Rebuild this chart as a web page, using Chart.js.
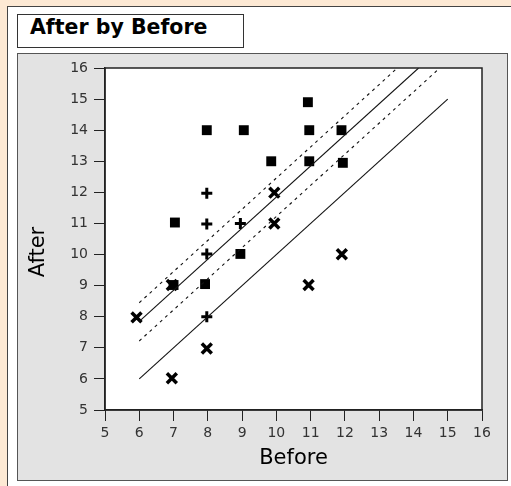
<!DOCTYPE html>
<html>
<head>
<meta charset="utf-8">
<script src="https://cdn.jsdelivr.net/npm/chart.js@4.4.1/dist/chart.umd.min.js"></script>
<style>
html,body{margin:0;padding:0;width:511px;height:486px;overflow:hidden;background:#fde9d4;}
#outer{position:absolute;left:7px;top:6px;width:520px;height:500px;background:#fff;border:1px solid #444;}
#title{position:absolute;left:17px;top:14px;height:32px;line-height:33px;border:1.5px solid #333;background:#fff;
  font:bold 20.5px "DejaVu Sans";color:#000;padding-left:12px;box-sizing:content-box;width:213px;}
#panel{position:absolute;left:17px;top:53px;width:489px;height:426px;background:#e3e3e3;border:1px solid #555;}
canvas{position:absolute;left:0;top:0;}
</style>
</head>
<body>
<div id="outer"></div>
<div id="title">After by Before</div>
<div id="panel"></div>
<canvas id="myChart" width="511" height="486"></canvas>
<script>
// group 1 (squares)
const squaresX = [7.97, 9.05, 9.85, 10.92, 10.96, 11.9, 10.96, 11.94, 7.04, 7.0, 7.92, 8.95];
const squaresY = [14, 14, 13, 14.9, 14, 14, 13, 12.95, 11.03, 9.02, 9.05, 10.02];
// group 2 (plus)
const plusX = [7.97, 7.97, 8.95, 7.97, 7.97];
const plusY = [11.97, 10.98, 11, 10.02, 8.0];
// group 3 (x)
const crossX = [9.94, 9.94, 5.92, 6.95, 7.97, 10.94, 11.91, 6.95];
const crossY = [11.99, 11, 7.98, 6.02, 6.98, 9.02, 10.01, 9.02];

// lines (end points)
const diagX = [6, 15];
const diagY = [6, 15];
const fitX = [6, 14.15];
const fitY = [7.85, 16];
const upperX = [6, 13.53];
const upperY = [8.45, 16];
const lowerX = [6, 14.77];
const lowerY = [7.22, 16];

const xTicks = [5,6,7,8,9,10,11,12,13,14,15,16];
const yTicks = [5,6,7,8,9,10,11,12,13,14,15,16];
const xTitle = 'Before';
const yTitle = 'After';

function pts(xs, ys){ return xs.map((x,i)=>({x:x, y:ys[i]})); }

const plotFrame = {
  id:'plotFrame',
  beforeDraw(chart){
    const {ctx, chartArea:a} = chart;
    ctx.save();
    ctx.fillStyle = '#fff';
    ctx.fillRect(a.left, a.top, a.right-a.left, a.bottom-a.top);
    ctx.restore();
  },
  afterDraw(chart){
    const {ctx, chartArea:a} = chart;
    ctx.save();
    ctx.strokeStyle = '#222';
    ctx.lineWidth = 1.5;
    ctx.strokeRect(a.left, a.top, a.right-a.left, a.bottom-a.top);
    // y axis title, sits a bit below the middle like the original
    ctx.translate(39, (a.top + a.bottom)/2 + 13);
    ctx.rotate(-Math.PI/2);
    ctx.font = '21px "DejaVu Sans"';
    ctx.fillStyle = '#000';
    ctx.textAlign = 'center';
    ctx.textBaseline = 'middle';
    ctx.fillText(yTitle, 0, 0);
    ctx.restore();
  }
};

const lineDs = (xs, ys, dash) => ({
  data: pts(xs, ys), showLine:true, pointRadius:0, borderColor:'#111',
  borderWidth:1.1, borderDash:dash, fill:false
});

const ctx = document.getElementById('myChart').getContext('2d');
new Chart(ctx, {
  type:'scatter',
  data:{
    datasets:[
      lineDs(diagX, diagY, []),
      lineDs(fitX, fitY, []),
      lineDs(upperX, upperY, [3,4]),
      lineDs(lowerX, lowerY, [3,4]),
      {data:pts(crossX, crossY), pointStyle:'crossRot', pointRadius:7, borderColor:'#000', borderWidth:3.5},
      {data:pts(squaresX, squaresY), pointStyle:'rect', pointRadius:7, backgroundColor:'#000', borderWidth:0},
      {data:pts(plusX, plusY), pointStyle:'cross', pointRadius:5.5, borderColor:'#000', borderWidth:3}
    ]
  },
  options:{
    responsive:false,
    animation:false,
    devicePixelRatio:1,
    layout:{padding:{left:22, top:68, right:29, bottom:14}},
    plugins:{legend:{display:false}, tooltip:{enabled:false}},
    scales:{
      x:{
        type:'linear', min:5, max:16,
        afterBuildTicks: s => { s.ticks = xTicks.map(v=>({value:v})); },
        afterFit: s => { s.height = 62; },
        ticks:{font:{family:'DejaVu Sans', size:14}, color:'#333', padding:4},
        grid:{drawOnChartArea:false, tickLength:11, tickColor:'#222'},
        border:{color:'#222', width:1.5},
        title:{display:true, text:xTitle, font:{family:'DejaVu Sans', size:21}, color:'#000', padding:{top:0, bottom:1}}
      },
      y:{
        type:'linear', min:5, max:16,
        afterBuildTicks: s => { s.ticks = yTicks.map(v=>({value:v})); },
        afterFit: s => { s.width = 83; },
        ticks:{font:{family:'DejaVu Sans', size:14}, color:'#333', padding:6},
        grid:{drawOnChartArea:false, tickLength:11, tickColor:'#222'},
        border:{color:'#222', width:1.5},
        title:{display:false}
      }
    }
  },
  plugins:[plotFrame]
});
</script>
</body>
</html>
